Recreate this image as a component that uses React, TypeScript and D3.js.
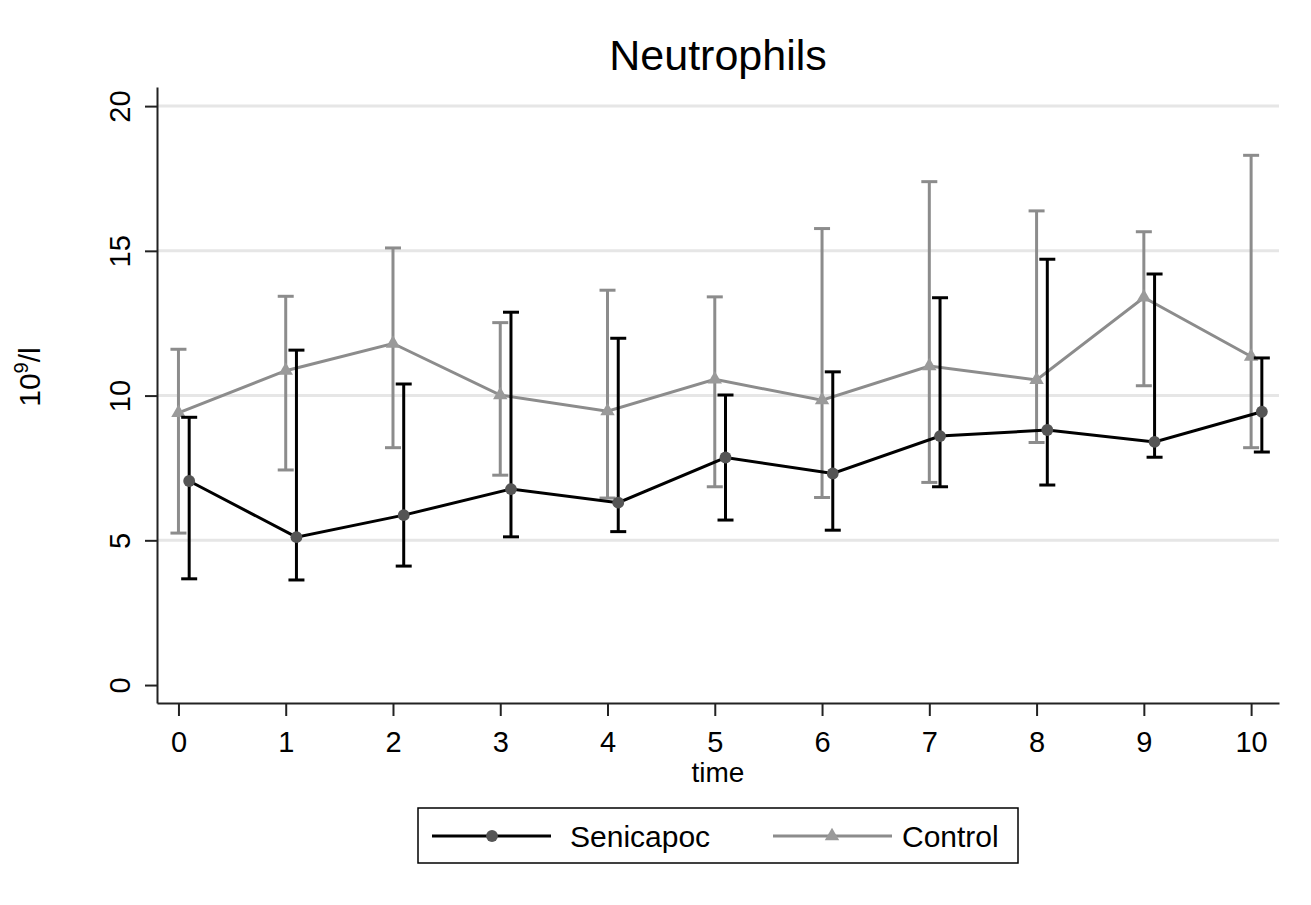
import { useRef, useEffect } from "react";
import * as d3 from "d3";

// values
const times = [0, 1, 2, 3, 4, 5, 6, 7, 8, 9, 10];
const controlMean = [9.4, 10.86, 11.8, 10.02, 9.46, 10.56, 9.84, 11.02, 10.54, 13.39, 11.35];
const controlUpper = [11.6, 13.43, 15.1, 12.52, 13.64, 13.41, 15.77, 17.39, 16.38, 15.66, 18.3];
const controlLower = [5.25, 7.43, 8.2, 7.25, 6.46, 6.85, 6.48, 7.0, 8.38, 10.34, 8.2];
const seniMean = [7.05, 5.11, 5.87, 6.77, 6.3, 7.86, 7.31, 8.6, 8.81, 8.4, 9.44];
const seniUpper = [9.25, 11.57, 10.4, 12.88, 11.98, 10.02, 10.82, 13.38, 14.71, 14.2, 11.3];
const seniLower = [3.67, 3.63, 4.11, 5.12, 5.3, 5.7, 5.35, 6.85, 6.91, 7.87, 8.05];
const yTicks = [0, 5, 10, 15, 20];
const gridTicks = [5, 10, 15, 20];

const FONT = "'Liberation Sans', Arial, sans-serif";

export default function App() {
  const ref = useRef<SVGSVGElement>(null);

  // Chart attributes
  const chartAttr = {
    width: 1311,
    height: 905,
    left: 157,
    right: 1279,
    top: 87,
    bottom: 703,
  };

  useEffect(() => {
    const svg = d3.select(ref.current);
    svg.selectAll("*").remove();

    const xScale = d3.scaleLinear()
      .domain([-0.2, 10.26])
      .range([chartAttr.left, chartAttr.right]);

    const yScale = d3.scaleLinear()
      .domain([-0.62, 20.66])
      .range([chartAttr.bottom, chartAttr.top]);

    // light grid lines
    svg.append("g")
      .selectAll("line")
      .data(gridTicks)
      .enter()
      .append("line")
      .attr("x1", chartAttr.left)
      .attr("x2", chartAttr.right)
      .attr("y1", d => yScale(d))
      .attr("y2", d => yScale(d))
      .attr("stroke", "#e6e6e6")
      .attr("stroke-width", 3);

    // axes
    const yAxis = d3.axisLeft(yScale).tickValues(yTicks).tickSize(12).tickSizeOuter(0);
    const xAxis = d3.axisBottom(xScale).tickValues(times).tickSize(13).tickSizeOuter(0);

    const gy = svg.append("g")
      .attr("transform", "translate(" + chartAttr.left + ",0)")
      .call(yAxis);
    gy.select(".domain").attr("stroke", "#222").attr("stroke-width", 2);
    gy.selectAll(".tick line").attr("stroke", "#222").attr("stroke-width", 2);
    gy.selectAll(".tick text")
      .attr("transform", "rotate(-90)")
      .attr("x", 0)
      .attr("y", -27)
      .attr("dy", 0)
      .attr("text-anchor", "middle")
      .attr("fill", "#000")
      .style("font-size", "29px")
      .style("font-family", FONT);

    const gx = svg.append("g")
      .attr("transform", "translate(0," + chartAttr.bottom + ")")
      .call(xAxis);
    gx.select(".domain").attr("stroke", "#222").attr("stroke-width", 2);
    gx.selectAll(".tick line").attr("stroke", "#222").attr("stroke-width", 2);
    gx.selectAll(".tick text")
      .attr("y", 49)
      .attr("dy", 0)
      .attr("fill", "#000")
      .style("font-size", "29px")
      .style("font-family", FONT);

    // one series: error bars, connecting line, markers
    const drawSeries = (mean: number[], lower: number[], upper: number[], shift: number,
                        color: string, barWidth: number, markerFill: string, symbol: any, symSize: number) => {
      const rows = times.map((t, i) => ({ x: t + shift, m: mean[i], lo: lower[i], hi: upper[i] }));
      const g = svg.append("g");
      const cap = 8;

      g.selectAll(".bar").data(rows).enter().append("line")
        .attr("x1", d => xScale(d.x)).attr("x2", d => xScale(d.x))
        .attr("y1", d => yScale(d.lo)).attr("y2", d => yScale(d.hi))
        .attr("stroke", color).attr("stroke-width", barWidth);
      g.selectAll(".capHi").data(rows).enter().append("line")
        .attr("x1", d => xScale(d.x) - cap).attr("x2", d => xScale(d.x) + cap)
        .attr("y1", d => yScale(d.hi)).attr("y2", d => yScale(d.hi))
        .attr("stroke", color).attr("stroke-width", barWidth);
      g.selectAll(".capLo").data(rows).enter().append("line")
        .attr("x1", d => xScale(d.x) - cap).attr("x2", d => xScale(d.x) + cap)
        .attr("y1", d => yScale(d.lo)).attr("y2", d => yScale(d.lo))
        .attr("stroke", color).attr("stroke-width", barWidth);

      const line = d3.line<any>().x(d => xScale(d.x)).y(d => yScale(d.m));
      g.append("path")
        .datum(rows)
        .attr("d", line)
        .attr("fill", "none")
        .attr("stroke", color)
        .attr("stroke-width", 3);

      g.selectAll(".mark").data(rows).enter().append("path")
        .attr("d", d3.symbol().type(symbol).size(symSize)())
        .attr("transform", d => "translate(" + xScale(d.x) + "," + yScale(d.m) + ")")
        .attr("fill", markerFill);
    };

    drawSeries(controlMean, controlLower, controlUpper, 0, "#8c8c8c", 3, "#9a9a9a", d3.symbolTriangle, 90);
    drawSeries(seniMean, seniLower, seniUpper, 0.1, "#000", 3, "#555", d3.symbolCircle, 110);

    // title
    svg.append("text")
      .attr("x", (chartAttr.left + chartAttr.right) / 2)
      .attr("y", 70)
      .attr("text-anchor", "middle")
      .style("font-size", "43px")
      .style("font-family", FONT)
      .text("Neutrophils");

    // x axis title
    svg.append("text")
      .attr("x", (chartAttr.left + chartAttr.right) / 2)
      .attr("y", 782)
      .attr("text-anchor", "middle")
      .style("font-size", "28px")
      .style("font-family", FONT)
      .text("time");

    // y axis title
    const yt = svg.append("text")
      .attr("transform", "translate(40,377) rotate(-90)")
      .attr("text-anchor", "middle")
      .style("font-size", "30px")
      .style("font-family", FONT);
    yt.append("tspan").text("10");
    yt.append("tspan").attr("dy", -12).style("font-size", "20px").text("9");
    yt.append("tspan").attr("dy", 12).text("/l");

    // legend
    const lg = svg.append("g");
    lg.append("rect")
      .attr("x", 418).attr("y", 808).attr("width", 600).attr("height", 55)
      .attr("fill", "#fff").attr("stroke", "#000").attr("stroke-width", 1.5);
    const ly = 836;
    lg.append("line").attr("x1", 432).attr("x2", 551).attr("y1", ly).attr("y2", ly)
      .attr("stroke", "#000").attr("stroke-width", 3);
    lg.append("path").attr("d", d3.symbol().type(d3.symbolCircle).size(110)())
      .attr("transform", "translate(492," + ly + ")").attr("fill", "#555");
    lg.append("text").attr("x", 570).attr("y", ly + 11)
      .style("font-size", "30px").style("font-family", FONT).text("Senicapoc");
    lg.append("line").attr("x1", 773).attr("x2", 892).attr("y1", ly).attr("y2", ly)
      .attr("stroke", "#8c8c8c").attr("stroke-width", 3);
    lg.append("path").attr("d", d3.symbol().type(d3.symbolTriangle).size(90)())
      .attr("transform", "translate(832," + ly + ")").attr("fill", "#9a9a9a");
    lg.append("text").attr("x", 902).attr("y", ly + 11)
      .style("font-size", "30px").style("font-family", FONT).text("Control");
  }, []);

  return (
    <div>
      <svg
        ref={ref}
        width={chartAttr.width}
        height={chartAttr.height}
        style={{ position: "absolute", left: 0, top: 0, background: "#fff" }}
      />
    </div>
  );
}
